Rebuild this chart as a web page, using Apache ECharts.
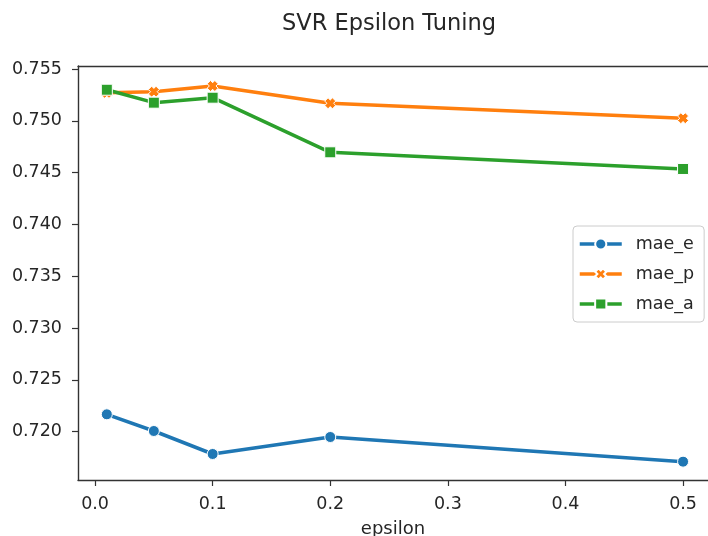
<!DOCTYPE html>
<html>
<head>
<meta charset="utf-8">
<script src="https://cdn.jsdelivr.net/npm/echarts@6/dist/echarts.min.js"></script>
<style>html,body{margin:0;padding:0;background:#fff}#c{width:708px;height:536px}</style>
</head>
<body>
<div id="c"></div>
<script>
const epsilon = [0.01, 0.05, 0.1, 0.2, 0.5];
const maeE = [0.72167, 0.72006, 0.71784, 0.71948, 0.71710];
const maeP = [0.75270, 0.75281, 0.75336, 0.75169, 0.75025];
const maeA = [0.75300, 0.75175, 0.75223, 0.74696, 0.74535];
const xTicks = [0.0, 0.1, 0.2, 0.3, 0.4, 0.5];
const yTicks = [0.720, 0.725, 0.730, 0.735, 0.740, 0.745, 0.750, 0.755];

const font = 'DejaVu Sans';
const txt = '#262626';
const spine = '#333333';
const xPath = 'path://M0,3 L3,0 L5,2 L7,0 L10,3 L8,5 L10,7 L7,10 L5,8 L3,10 L0,7 L2,5 Z';
const X_MIN = -0.0145, X_MAX = 0.5212;

function mk(name, vals, color, symbol, size) {
  return {
    name: name, type: 'line', xAxisIndex: 0,
    data: epsilon.map((x, i) => [x, vals[i]]),
    symbol: symbol, symbolSize: size, showSymbol: true,
    lineStyle: {color: color, width: 3.5},
    itemStyle: {color: color, borderColor: '#fff', borderWidth: 1},
    emphasis: {disabled: true}, z: 3
  };
}

const chart = echarts.init(document.getElementById('c'), null, {renderer: 'canvas'});
chart.setOption({
  animation: false,
  backgroundColor: '#fff',
  title: {
    text: 'SVR Epsilon Tuning', left: 384, top: 8, textAlign: 'center',
    textStyle: {fontFamily: font, fontSize: 22.5, fontWeight: 'normal', color: txt}
  },
  grid: {left: 78, top: 66, right: 0, bottom: 56, show: false, containLabel: false, outerBoundsMode: 'none'},
  legend: {
    orient: 'vertical', left: 573, top: 226,
    padding: [9, 10, 9, 5],
    itemWidth: 42, itemHeight: 14, itemGap: 12,
    backgroundColor: '#fff',
    borderColor: '#cccccc', borderWidth: 1, borderRadius: 4,
    lineStyle: {width: 3.5},
    textStyle: {fontFamily: font, fontSize: 17.5, color: txt, padding: [0, 0, 0, 9], lineHeight: 18},
    data: ['mae_e', 'mae_p', 'mae_a']
  },
  xAxis: [{
    type: 'value', min: X_MIN, max: X_MAX, position: 'bottom',
    name: 'epsilon', nameLocation: 'middle', nameGap: 40,
    nameTextStyle: {fontFamily: font, fontSize: 18, color: txt},
    axisLine: {show: true, onZero: false, lineStyle: {color: spine, width: 1.4}},
    axisTick: {show: true, length: 6, customValues: xTicks, lineStyle: {color: spine, width: 1.2}},
    axisLabel: {customValues: xTicks, fontFamily: font, fontSize: 17.5, color: txt, margin: 15, formatter: v => v.toFixed(1)},
    splitLine: {show: false}
  }, {
    type: 'value', min: X_MIN, max: X_MAX, position: 'top',
    axisLine: {show: true, onZero: false, lineStyle: {color: spine, width: 1.4}},
    axisTick: {show: false}, axisLabel: {show: false}, splitLine: {show: false}
  }],
  yAxis: {
    type: 'value', min: 0.71533, max: 0.75529,
    axisLine: {show: true, onZero: false, lineStyle: {color: spine, width: 1.4}},
    axisTick: {show: true, length: 6, customValues: yTicks, lineStyle: {color: spine, width: 1.2}},
    axisLabel: {customValues: yTicks, fontFamily: font, fontSize: 17.5, color: txt, margin: 16, formatter: v => v.toFixed(3)},
    splitLine: {show: false}
  },
  series: [
    mk('mae_e', maeE, '#1f77b4', 'circle', 11),
    mk('mae_p', maeP, '#ff7f0e', xPath, 11),
    mk('mae_a', maeA, '#2ca02c', 'rect', 11)
  ]
});
</script>
</body>
</html>
